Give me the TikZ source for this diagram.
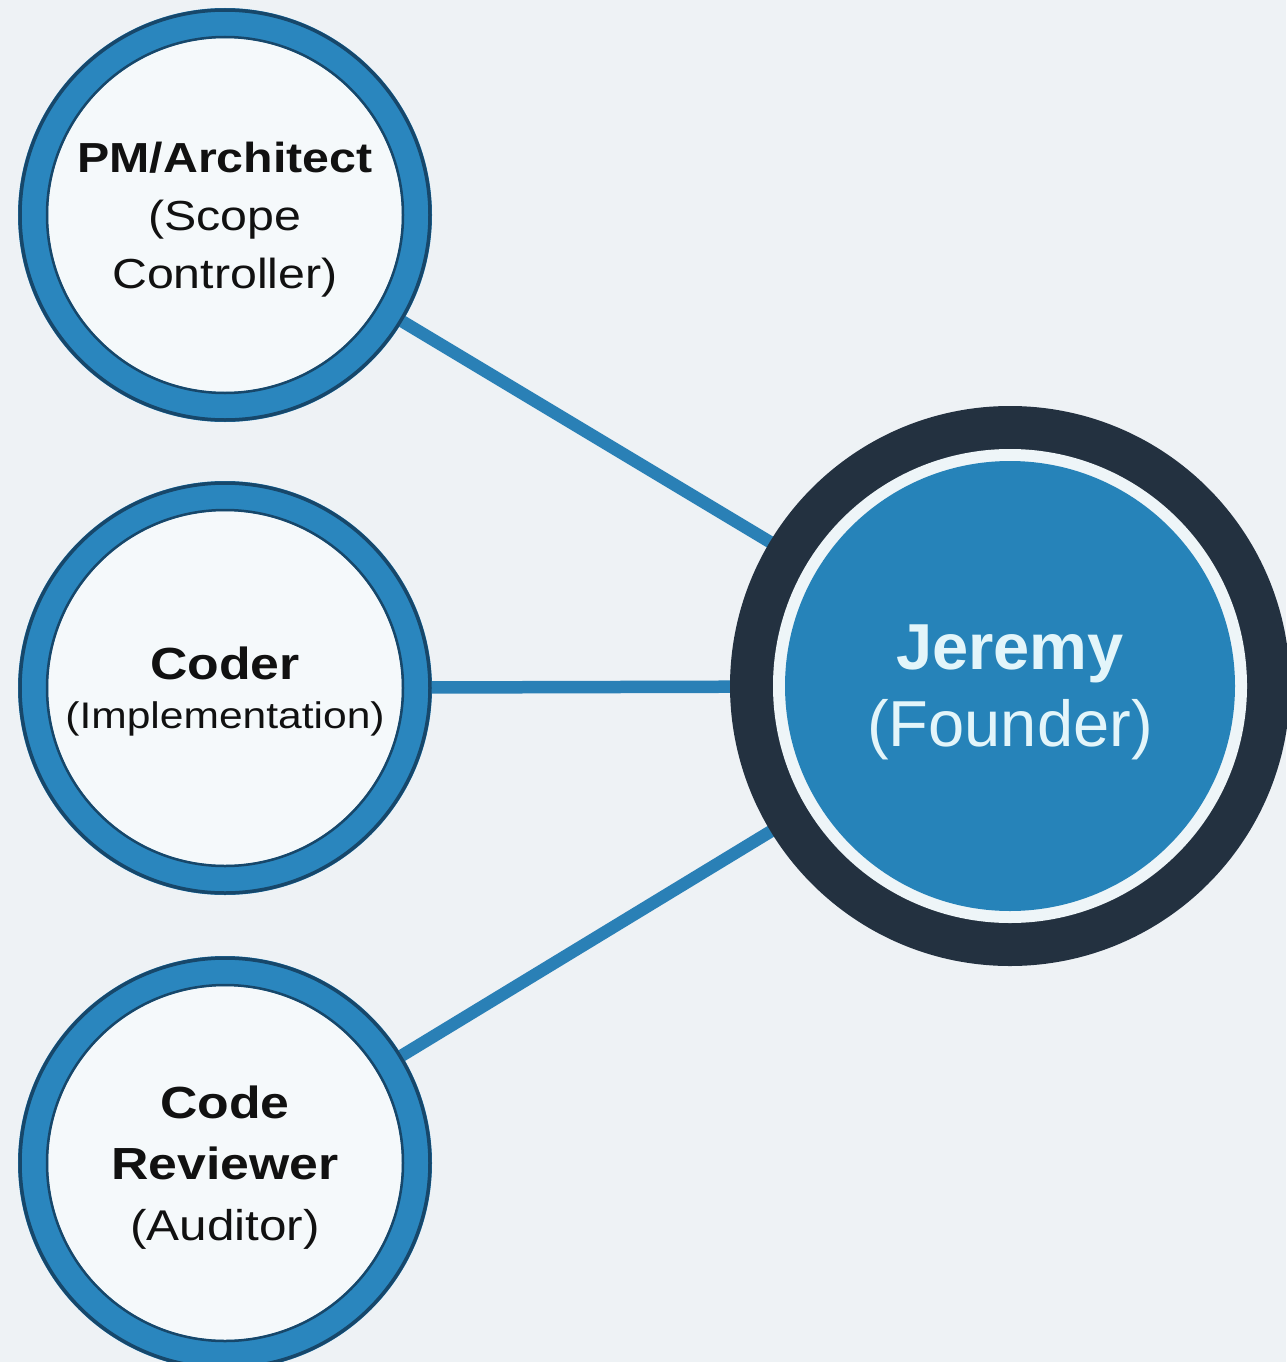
\documentclass[tikz,border=0pt]{standalone}
\usepackage{fontspec}
\setmainfont{Liberation Sans}
\newfontfamily\widesans{Liberation Sans}[FakeStretch=1.15]
\usetikzlibrary{backgrounds}
\definecolor{bgc}{HTML}{EEF2F5}
\definecolor{innerw}{HTML}{F5F9FB}
\definecolor{ringblue}{HTML}{2A86BE}
\definecolor{ringdark}{HTML}{17476A}
\definecolor{linkblue}{HTML}{2A80B6}
\definecolor{jdark}{HTML}{233140}
\definecolor{jgap}{HTML}{EEF5F8}
\definecolor{jblue}{HTML}{2683B9}
\definecolor{jtext}{HTML}{E3F5FA}
\definecolor{txt}{HTML}{111111}
\tikzset{
  rolecircle/.style={circle, draw=ringblue, line width=30pt, fill=innerw,
    minimum size=384pt, inner sep=0pt, align=center, text=txt, text depth=0pt},
  ringedge/.style={draw=ringdark, line width=3.5pt},
  link/.style={draw=linkblue, line width=12.5pt},
  founder/.style={circle, fill=jblue, minimum size=450pt, inner sep=0pt,
    align=center, text=jtext, text depth=0pt},
}
\begin{document}
\begin{tikzpicture}[x=1pt,y=-1pt]
\useasboundingbox (0,0) rectangle (1286,1362);
\begin{scope}[on background layer]
  \fill[bgc] (0,0) rectangle (1286,1362);
\end{scope}
\node[rolecircle, font=\widesans\fontsize{42pt}{58pt}\selectfont] (pm) at (225,215)
  {{\bfseries PM/Architect}\\(Scope\\Controller)};
\node[rolecircle, font=\widesans\fontsize{37pt}{49pt}\selectfont] (coder) at (225,688)
  {{\fontsize{45pt}{49pt}\selectfont\bfseries Coder}\\(Implementation)};
\node[rolecircle, font=\widesans\fontsize{43pt}{61pt}\selectfont] (rev) at (225,1163)
  {{\fontsize{45pt}{61pt}\selectfont\bfseries Code}\\{\fontsize{45pt}{61pt}\selectfont\bfseries Reviewer}\\(Auditor)};
\node[founder, font=\fontsize{65pt}{77pt}\selectfont] (jer) at (1010,686)
  {{\bfseries Jeremy}\\(Founder)};
\foreach \n in {pm,coder,rev}{
  \draw[ringedge] (\n.center) circle (205pt);
  \draw[ringedge, line width=2.5pt] (\n.center) circle (178pt);
}
\begin{scope}[on background layer]
  \draw[link] (pm.center) -- (jer.center);
  \draw[link] (coder.center) -- (jer.center);
  \draw[link] (rev.center) -- (jer.center);
  \fill[jdark] (jer.center) circle (280pt);
  \fill[jgap] (jer.center) circle (237pt);
\end{scope}
\end{tikzpicture}
\end{document}
